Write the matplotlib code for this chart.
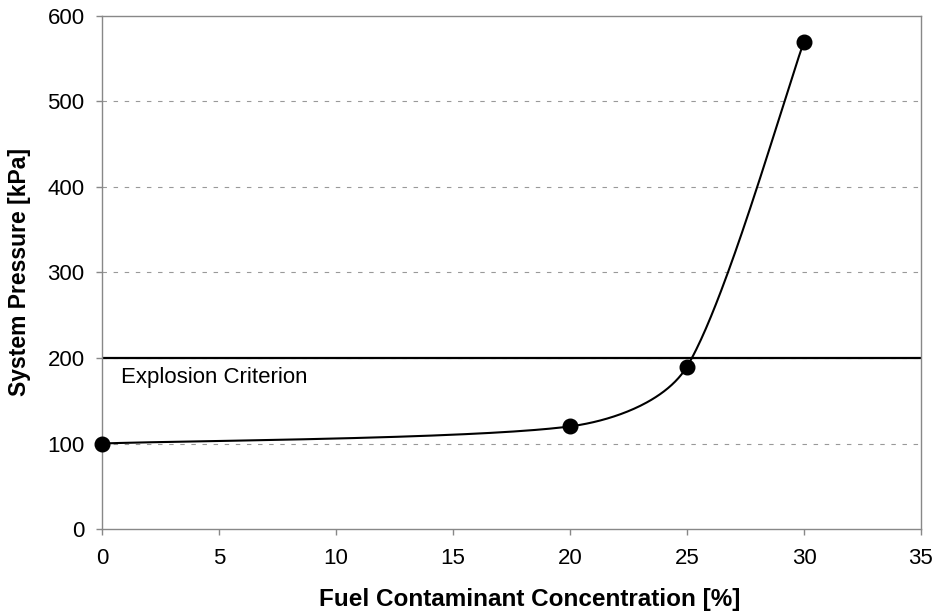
import numpy as np
import matplotlib.pyplot as plt

plt.rcParams['font.family'] = ['Liberation Sans', 'DejaVu Sans']

# data
conc = [0, 20, 25, 30]
pressure = [100, 120, 190, 570]
criterion = 200
x_ticks = [0, 5, 10, 15, 20, 25, 30, 35]
y_ticks = [0, 100, 200, 300, 400, 500, 600]


def excel_smooth(px, n=80):
    # smoothed line in pixel space: Bezier arms along the neighbour chord,
    # length = min(1/6 of it, share of segment length / 3)
    p = np.asarray(px, dtype=float)
    out = []
    for i in range(len(p) - 1):
        p0 = p[i - 1] if i > 0 else p[i]
        p1, p2 = p[i], p[i + 1]
        p3 = p[i + 2] if i + 2 < len(p) else p[i + 1]
        l01 = np.hypot(*(p1 - p0))
        l12 = np.hypot(*(p2 - p1))
        l23 = np.hypot(*(p3 - p2))
        f1 = min(1 / 6, l12 / (l01 + l12) / 3)
        f2 = min(1 / 6, l12 / (l12 + l23) / 3)
        c1 = p1 + (p2 - p0) * f1
        c2 = p2 - (p3 - p1) * f2
        t = np.linspace(0, 1, n)[:, None]
        out.append((1 - t)**3 * p1 + 3 * (1 - t)**2 * t * c1 + 3 * (1 - t) * t**2 * c2 + t**3 * p2)
    return np.vstack(out)


fig = plt.figure(figsize=(9.37, 6.12), dpi=100)
ax = fig.add_axes([0.1089, 0.1356, 0.874, 0.8383])
ax.set_xlim(0, 35)
ax.set_ylim(0, 600)

pix = ax.transData.transform(np.column_stack([conc, pressure]))
curve = ax.transData.inverted().transform(excel_smooth(pix))
ax.plot(curve[:, 0], curve[:, 1], color='black', lw=1.5, zorder=3, clip_on=False)
ax.plot(conc, pressure, 'o', color='black', ms=10.5, zorder=4, clip_on=False)

ax.axhline(criterion, color='black', lw=1.6, zorder=2)
ax.text(0.8, 177, 'Explosion Criterion', fontsize=16, va='center', ha='left')

ax.set_xticks(x_ticks)
ax.set_yticks(y_ticks)
for v in y_ticks[1:-1]:
    ax.axhline(v, color='#999999', lw=0.8, ls=(0, (4, 6)), zorder=1)

for s in ax.spines.values():
    s.set_color('#888888')
    s.set_linewidth(1)
ax.tick_params(direction='out', length=4.5, width=1, color='#888888', labelsize=16)
ax.tick_params(axis='x', pad=9)
ax.tick_params(axis='y', pad=8)

ax.set_xlabel('Fuel Contaminant Concentration [%]', fontsize=17.5, fontweight='bold', va='center')
ax.set_ylabel('System Pressure [kPa]', fontsize=16.5, fontweight='bold', va='center')
ax.xaxis.set_label_coords(0.5226, -0.137)
ax.yaxis.set_label_coords(-0.1007, 0.5)

fig.savefig('out.png', dpi=100)
